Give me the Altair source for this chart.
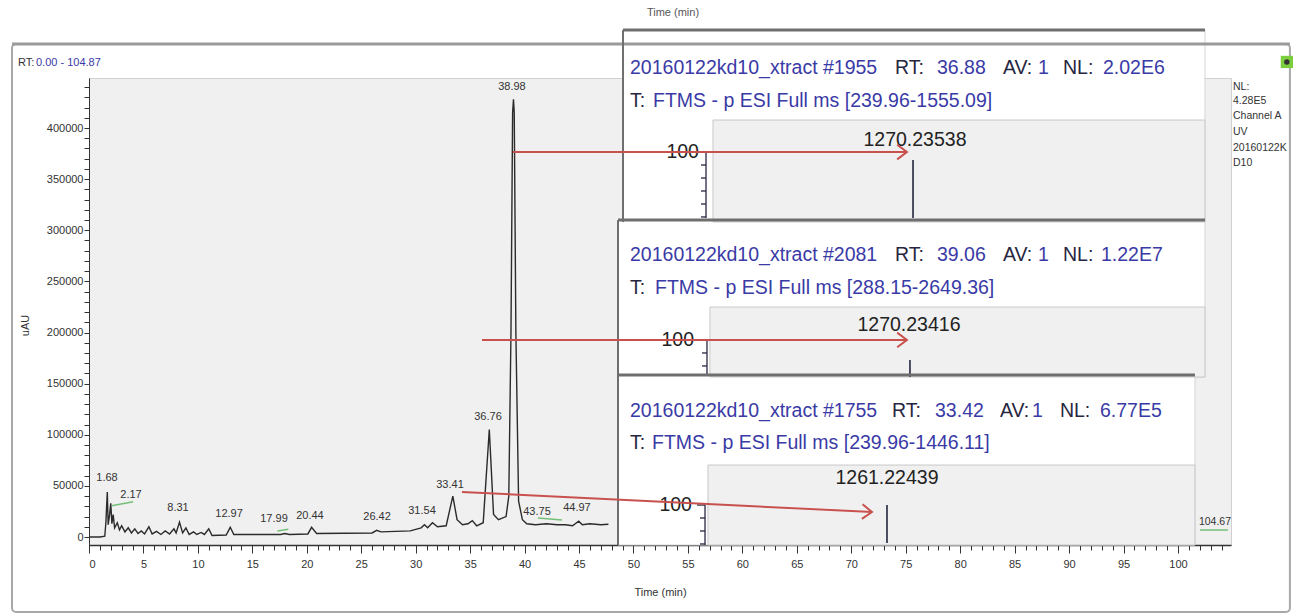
import altair as alt
import pandas as pd

FONT = "Liberation Sans, Arial, sans-serif"
BLUE = "#3a3aa6"
INK = "#262640"
AXIS = "#333333"
RED = "#c8514e"
GREEN = "#74bf78"
GRAY_BG = "#f0f0f0"
DARK = "#6e6e6e"

# ---------------- UV chromatogram (Channel A) ----------------
rt_min = [0.0, 1.0, 1.45, 1.55, 1.68, 1.76, 1.88, 2.0, 2.1, 2.22, 2.35, 2.6, 2.8, 3.0,
          3.3, 3.6, 3.9, 4.2, 4.5, 4.8, 5.1, 5.5, 5.8, 6.2, 6.6, 7.0, 7.4, 7.8, 8.0,
          8.31, 8.6, 8.9, 9.2, 9.6, 9.9, 10.3, 10.6, 11.0, 11.3, 12.6, 12.97, 13.3,
          17.6, 17.99, 18.4, 20.1, 20.44, 20.9, 26.0, 26.42, 26.8, 29.5, 30.5, 30.8,
          31.1, 31.54, 32.0, 32.8, 33.41, 33.8, 34.3, 34.8, 35.2, 35.6, 36.2, 36.76,
          37.15, 37.6, 38.3, 38.55, 38.75, 38.9, 38.98, 39.05, 39.2, 39.45, 39.8,
          40.2, 41.0, 42.0, 43.0, 43.75, 44.4, 44.97, 45.3, 46.0, 47.0, 47.7]
uau = [0, 0, 800, 14000, 44000, 12000, 21000, 33000, 13000, 22000, 9000, 14000, 7000,
       11000, 5000, 9000, 4000, 8000, 3500, 6000, 3000, 10000, 3000, 5500, 2500, 6000,
       3000, 8000, 4000, 14500, 4000, 9000, 2500, 5000, 2500, 4500, 2500, 8000, 1500,
       2000, 9500, 2500, 2500, 3500, 2500, 3000, 9500, 3500, 4000, 6500, 5000, 6000,
       9000, 12000, 9000, 14000, 10000, 11000, 40000, 17000, 12000, 13000, 16000,
       11000, 14000, 105000, 22000, 17000, 20000, 40000, 200000, 415000, 428000,
       415000, 200000, 35000, 17000, 13000, 12000, 13000, 12000, 12000, 11000, 15500,
       12000, 13000, 12000, 12500]

# peak labels (text) and where they sit (min, uAU)
peak_text = ["1.68", "2.17", "8.31", "12.97", "17.99", "20.44", "26.42", "31.54",
             "33.41", "36.76", "38.98", "43.75", "44.97"]
peak_label_t = [1.65, 3.86, 8.17, 12.86, 16.99, 20.29, 26.45, 30.58, 33.15, 36.64,
                38.84, 41.14, 44.81]
peak_label_v = [57700, 41100, 28400, 22500, 17600, 20500, 19600, 25400, 50900,
                117400, 440100, 24400, 28400]

# ---------------- mass-spectrum insets ----------------
scan_file = "20160122kd10_xtract"
scan_no = ["#1955", "#2081", "#1755"]
scan_rt = ["36.88", "39.06", "33.42"]
scan_av = ["1", "1", "1"]
scan_nl = ["2.02E6", "1.22E7", "6.77E5"]
scan_range = ["[239.96-1555.09]", "[288.15-2649.36]", "[239.96-1446.11]"]
base_peak_mz = ["1270.23538", "1270.23416", "1261.22439"]

uv_info = ["NL:", "4.28E5", "Channel A", "UV", "20160122K", "D10"]
rt_range = "0.00 - 104.87"
end_label = "104.67"

# ---------------- layout of annotations (in minutes / uAU) ----------------
inset_left = [49.04, 48.58, 48.58]
inset_right = [102.48, 102.48, 101.56]
inset_top = [495800, 310000, 158400]
inset_bottom = [308100, 156500, -7800]
title1_v = [458700, 275800, 123200]
title2_v = [426400, 243500, 91900]
text_left = [49.68, 49.68, 49.68]
range_left = [51.79, 51.98, 51.70]
seg_left = [[74.01, 77.87, 83.93, 87.14, 89.44, 93.11],
            [74.01, 77.87, 83.93, 87.14, 89.44, 92.93],
            [73.74, 77.69, 83.65, 86.59, 89.16, 92.84]]
sub_left = [57.30, 57.02, 56.84]
sub_top = [407800, 224900, 70400]
hundred_t = [56.01, 55.56, 55.37]
hundred_v = [376500, 192700, 31300]
axis_t = [56.66, 56.75, 56.57]
axis_bottom = [312000, 158400, -7800]
peak_t = [75.67, 75.39, 73.28]
peak_top = [368700, 173100, 31300]
peak_bottom = [312000, 156500, -5900]
mz_label_t = [75.85, 75.30, 73.28]
mz_label_v = [388300, 207300, 57700]

arrow_start_t = [38.93, 36.09, 34.25]
arrow_start_v = [376500, 192700, 44000]
arrow_end_t = [75.11, 75.11, 71.90]
arrow_end_v = [376500, 192700, 24450]
arrow_angle = [0, 0, 2.8]

FS_BIG = 19.5
FS_SMALL = 11

# ---------------- build tables ----------------
chrom = pd.DataFrame({"t": rt_min, "v": uau})

rules = []
def rule(t, v, t2, v2, c, w):
    rules.append(dict(t=t, v=v, t2=t2, v2=v2, c=c, w=w))

# window frame top line
rule(-7.07, 482200, 110.28, 482200, "#9a9a9a", 3)
# green baseline markers
rule(2.08, 30600, 4.06, 34500, GREEN, 1.5)
rule(17.3, 6000, 18.3, 7500, GREEN, 1.5)
rule(41.23, 18600, 43.43, 16600, GREEN, 1.5)
rule(102.02, 6850, 104.59, 6850, GREEN, 1.5)

for i in range(3):
    # box borders
    rule(inset_left[i], inset_top[i], inset_right[i], inset_top[i], DARK, 3)
    rule(inset_left[i], inset_top[i], inset_left[i], inset_bottom[i], DARK, 2)
    # mini intensity axis
    rule(axis_t[i], hundred_v[i], axis_t[i], axis_bottom[i], INK, 1.3)
    rule(axis_t[i] - 0.74, hundred_v[i], axis_t[i], hundred_v[i], INK, 1.3)
    k = 1
    while hundred_v[i] - k * 12700 > axis_bottom[i]:
        vv = hundred_v[i] - k * 12700
        rule(axis_t[i] - 0.46, vv, axis_t[i], vv, INK, 1.3)
        k += 1
    # base peak stick
    rule(peak_t[i], peak_top[i], peak_t[i], peak_bottom[i], INK, 1.6)

rules_df = pd.DataFrame(rules)

arrows_df = pd.DataFrame(dict(t=arrow_start_t, v=arrow_start_v, t2=arrow_end_t,
                              v2=arrow_end_v))
heads_df = pd.DataFrame(dict(t=arrow_end_t, v=arrow_end_v, a=arrow_angle))

frame_df = pd.DataFrame(dict(t=[-7.07], v=[482200], t2=[110.28], v2=[-73400]))
boxes_df = pd.DataFrame(dict(t=inset_left, v=inset_top, t2=inset_right, v2=inset_bottom))
subs_df = pd.DataFrame(dict(t=sub_left, v=sub_top, t2=inset_right, v2=inset_bottom))

left_txt, center_txt, right_txt = [], [], []
left_txt.append(dict(t=-6.52, v=463600, s="RT:", c=AXIS, z=FS_SMALL))
left_txt.append(dict(t=-4.87, v=463600, s=rt_range, c=BLUE, z=FS_SMALL))
for i in range(3):
    segs = [(scan_file + " " + scan_no[i], BLUE, text_left[i]),
            ("RT:", INK, seg_left[i][0]), (scan_rt[i], BLUE, seg_left[i][1]),
            ("AV:", INK, seg_left[i][2]), (scan_av[i], BLUE, seg_left[i][3]),
            ("NL:", INK, seg_left[i][4]), (scan_nl[i], BLUE, seg_left[i][5])]
    for s, c, t in segs:
        left_txt.append(dict(t=t, v=title1_v[i], s=s, c=c, z=FS_BIG))
    left_txt.append(dict(t=text_left[i], v=title2_v[i], s="T:", c=INK, z=FS_BIG))
    left_txt.append(dict(t=range_left[i], v=title2_v[i],
                         s="FTMS - p ESI Full ms " + scan_range[i], c=BLUE, z=FS_BIG))
    center_txt.append(dict(t=mz_label_t[i], v=mz_label_v[i], s=base_peak_mz[i], c="#222222", z=FS_BIG))
    right_txt.append(dict(t=hundred_t[i], v=hundred_v[i], s="100", c="#222222", z=FS_BIG))
info_v = [440100, 426400, 411700, 396100, 380400, 365800]
for s, vv in zip(uv_info, info_v):
    left_txt.append(dict(t=105.05, v=vv, s=s, c=AXIS, z=10.5))
for s, t, vv in zip(peak_text, peak_label_t, peak_label_v):
    center_txt.append(dict(t=t, v=vv, s=s, c=AXIS, z=FS_SMALL))
center_txt.append(dict(t=103.4, v=14700, s=end_label, c=AXIS, z=10.5))
center_txt.append(dict(t=53.63, v=512000, s="Time (min)", c="#555555", z=FS_SMALL))

# ---------------- chart ----------------
xs = alt.Scale(domain=[0, 104.87], nice=False, zero=False)
ys = alt.Scale(domain=[-7800, 448900], nice=False, zero=False)


def enc(x2=False, y2=False):
    d = dict(x=alt.X("t:Q", scale=xs, axis=None), y=alt.Y("v:Q", scale=ys, axis=None))
    if x2:
        d["x2"] = alt.X2("t2:Q")
    if y2:
        d["y2"] = alt.Y2("v2:Q")
    return d


frame = alt.Chart(frame_df).mark_rect(fillOpacity=0, stroke="#a8a8a8", strokeWidth=2,
                                      cornerRadius=4).encode(**enc(True, True))

line = alt.Chart(chrom).mark_line(color="#2b2b2b", strokeWidth=1.4).encode(
    x=alt.X("t:Q", scale=xs, axis=alt.Axis(
        values=list(range(0, 101, 5)), title="Time (min)", grid=False, orient="bottom",
        tickSize=8, tickColor=AXIS, domainColor=AXIS, domainWidth=1.5,
        labelFont=FONT, labelFontSize=FS_SMALL, labelColor=AXIS, labelPadding=5,
        titleFont=FONT, titleFontSize=FS_SMALL, titleFontWeight="normal",
        titleColor=AXIS, titleY=47, titleBaseline="middle")),
    y=alt.Y("v:Q", scale=ys, axis=alt.Axis(
        values=list(range(0, 440001, 10000)), format="d",
        labelExpr="datum.value % 50000 === 0 ? datum.label : ''",
        title="uAU", grid=False, tickSize=5, tickColor=AXIS, domainColor=AXIS,
        labelFont=FONT, labelFontSize=FS_SMALL, labelColor=AXIS, labelPadding=1,
        titleFont=FONT, titleFontSize=FS_SMALL, titleFontWeight="normal",
        titleColor=AXIS, titleX=-64, titleY=247, titleAngle=270,
        titleAlign="center", titleBaseline="middle")),
)

minor = alt.Chart(chrom).mark_line(opacity=0).encode(
    x=alt.X("t:Q", scale=xs, axis=alt.Axis(
        values=list(range(0, 105)), labels=False, domain=False, tickSize=5,
        tickColor=AXIS, title=None, grid=False, orient="bottom")),
    y=alt.Y("v:Q", scale=ys, axis=None),
)

rules_layer = alt.Chart(rules_df).mark_rule(strokeCap="butt").encode(
    **enc(True, True), color=alt.Color("c:N", scale=None),
    strokeWidth=alt.StrokeWidth("w:Q", scale=None))

boxes = alt.Chart(boxes_df).mark_rect(fill="white", stroke="#d6d6d6",
                                      strokeWidth=1).encode(**enc(True, True))
subs = alt.Chart(subs_df).mark_rect(fill=GRAY_BG, stroke="#c8c8c8",
                                    strokeWidth=1).encode(**enc(True, True))

arrows = alt.Chart(arrows_df).mark_rule(color=RED, strokeWidth=2).encode(**enc(True, True))
heads = alt.Chart(heads_df).mark_point(
    shape="M -1 -0.75 L 0 0 L -1 0.75", filled=False, color=RED, strokeWidth=2,
    size=380, opacity=1).encode(**enc(), angle=alt.Angle("a:Q", scale=None))


def text_layer(rows, align):
    return alt.Chart(pd.DataFrame(rows)).mark_text(
        font=FONT, baseline="middle", align=align).encode(
        **enc(), text="s:N", color=alt.Color("c:N", scale=None),
        size=alt.Size("z:Q", scale=None))


icon_df = pd.DataFrame(dict(t=[110.0], v=[464600]))
icon = alt.Chart(icon_df).mark_square(size=150, color="#7ccf3c", opacity=1).encode(**enc())
icon_dot = alt.Chart(icon_df).mark_circle(size=30, color="#333333", opacity=1).encode(**enc())

chart = alt.layer(
    frame, line, minor, boxes, subs, rules_layer,
    text_layer(left_txt, "left"), text_layer(center_txt, "center"),
    text_layer(right_txt, "right"), arrows, heads, icon, icon_dot,
).resolve_axis(x="independent", y="independent").properties(
    width=1142, height=467,
    autosize=alt.AutoSizeParams(type="none"),
    padding={"left": 89, "top": 78, "right": 65, "bottom": 70},
    background="white",
).configure_view(fill=GRAY_BG, stroke="#d0d0d0")

chart.save("out.html", embed_options={"renderer": "svg", "actions": False})
